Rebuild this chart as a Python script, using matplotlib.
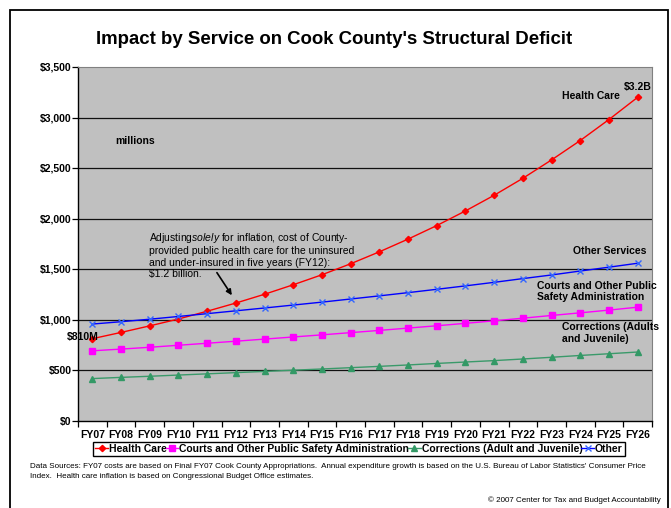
import matplotlib
matplotlib.use('Agg')
import matplotlib.pyplot as plt
from matplotlib.patches import Rectangle
from matplotlib.font_manager import FontProperties

plt.rcParams['font.family'] = ['Liberation Sans', 'DejaVu Sans']
plt.rcParams['mathtext.fontset'] = 'custom'
plt.rcParams['mathtext.rm'] = 'Liberation Sans'
plt.rcParams['mathtext.it'] = 'Liberation Sans:italic'

# Fiscal years and projected costs ($ millions)
years = ['FY07', 'FY08', 'FY09', 'FY10', 'FY11', 'FY12', 'FY13', 'FY14', 'FY15', 'FY16',
         'FY17', 'FY18', 'FY19', 'FY20', 'FY21', 'FY22', 'FY23', 'FY24', 'FY25', 'FY26']
health_care = [810, 872, 937, 1005, 1082, 1163, 1250, 1344, 1443, 1552,
               1670, 1796, 1930, 2075, 2230, 2398, 2580, 2772, 2980, 3200]
courts = [690, 707, 725, 745, 765, 785, 806, 827, 848, 870,
          892, 915, 938, 962, 987, 1013, 1040, 1066, 1093, 1122]
corrections = [415, 427, 438, 450, 462, 474, 486, 498, 510, 523,
               536, 550, 565, 579, 593, 609, 626, 644, 661, 678]
other = [955, 978, 1003, 1030, 1058, 1086, 1114, 1143, 1172, 1203,
         1234, 1266, 1299, 1333, 1368, 1405, 1441, 1480, 1518, 1557]
series_labels = ['Health Care', 'Courts and Other Public Safety Administration',
                 'Corrections (Adult and Juvenile)', 'Other']
y_ticks = [0, 500, 1000, 1500, 2000, 2500, 3000, 3500]
y_tick_labels = ['$0', '$500', '$1,000', '$1,500', '$2,000', '$2,500', '$3,000', '$3,500']

W, H = 671, 508
fig = plt.figure(figsize=(W / 100, H / 100), dpi=100)
fig.patch.set_facecolor('white')

# outer frame of the chart
fig.add_artist(Rectangle((10 / W, -0.05), (668 - 10) / W, 1.05 - 10 / H,
                         transform=fig.transFigure, fill=False,
                         edgecolor='black', lw=1.3))

ax = fig.add_axes([78 / W, 1 - 420.5 / H, (652 - 78) / W, (420.5 - 67) / H])
ax.set_facecolor('#C0C0C0')

x = list(range(len(years)))
for v in y_ticks[1:-1]:
    ax.axhline(v, color='#111111', lw=0.9, zorder=1)

ax.plot(x, health_care, color='#FF0000', lw=1.0, marker='D', ms=3.2,
        mfc='#FF0000', mec='#FF0000', zorder=3, label=series_labels[0])
ax.plot(x, courts, color='#FF00FF', lw=1.0, marker='s', ms=4.5,
        mfc='#FF00FF', mec='#FF00FF', zorder=3, label=series_labels[1])
ax.plot(x, corrections, color='#3A9A6A', lw=1.0, marker='^', ms=4.3,
        mfc='#339966', mec='#339966', zorder=3, label=series_labels[2])
ax.plot(x, other, color='#0000FF', lw=1.0, marker='x', ms=4.2, mew=1.0,
        mec='#3366FF', zorder=3, label=series_labels[3])

ax.set_xlim(-0.5, len(years) - 0.5)
ax.set_ylim(0, 3500)

ax.set_yticks(y_ticks)
ax.set_yticklabels(y_tick_labels, fontsize=7.5, fontweight='bold')
ax.tick_params(axis='y', direction='out', length=4, width=0.9, pad=0.5, colors='black')

ax.set_xticks([i - 0.5 for i in range(len(years) + 1)])
ax.set_xticklabels([])
ax.set_xticks(x, minor=True)
ax.set_xticklabels(years, minor=True, fontsize=7.5, fontweight='bold')
ax.tick_params(axis='x', which='major', direction='out', length=4, width=0.9)
ax.tick_params(axis='x', which='minor', length=0, pad=7)

ax.spines['left'].set_color('black')
ax.spines['bottom'].set_color('black')
ax.spines['left'].set_linewidth(1.0)
ax.spines['bottom'].set_linewidth(1.0)
ax.spines['top'].set_color('#808080')
ax.spines['right'].set_color('#808080')

bold = dict(fontsize=7.5, fontweight='bold', color='black')
ax.text(0.79, 2772, 'millions', ha='left', va='center', **bold)
ax.text(-0.88, 822, '$810M', ha='left', va='center', zorder=5, **bold)
ax.text(19.5, 3304, '$3.2B', ha='right', va='center', **bold)
ax.text(16.35, 3211, 'Health Care', ha='left', va='center', **bold)
ax.text(16.74, 1679, 'Other Services', ha='left', va='center', **bold)
ax.text(15.5, 1280, 'Courts and Other Public\nSafety Administration',
        ha='left', va='center', linespacing=1.15, **bold)
ax.text(16.35, 866, 'Corrections (Adults\nand Juvenile)',
        ha='left', va='center', linespacing=1.15, **bold)

ax.text(1.97, 1639,
        'Adjusting$\\mathit{solely}$ for inflation, cost of County-\n'
        'provided public health care for the uninsured\n'
        'and under-insured in five years (FY12):\n'
        '$1.2 billion.',
        ha='left', va='center', fontsize=7.5, linespacing=1.15, color='black')
ax.annotate('', xy=(4.86, 1240), xytext=(4.34, 1464),
            arrowprops=dict(arrowstyle='-|>', color='black', lw=1.2,
                            mutation_scale=8, shrinkA=0, shrinkB=0))

fig.text(334 / W, 1 - 40 / H, "Impact by Service on Cook County's Structural Deficit",
         ha='center', va='center', fontsize=13.4, fontweight='bold')

handles, labels = ax.get_legend_handles_labels()
leg = fig.legend(handles, labels, loc='center', bbox_to_anchor=(359 / W, 1 - 449 / H),
                 ncol=4, frameon=True, fancybox=False, edgecolor='black', framealpha=1,
                 prop=FontProperties(family=['Liberation Sans', 'DejaVu Sans'],
                                     weight='bold', size=7.5),
                 handlelength=1.2, handletextpad=0.1, columnspacing=-0.1,
                 borderpad=0.2, borderaxespad=0)
leg.get_frame().set_linewidth(1.0)

small = dict(fontsize=5.75, color='black',
             family=['Liberation Sans Narrow', 'Liberation Sans', 'DejaVu Sans'])
fig.text(30 / W, 1 - 467 / H,
         "Data Sources: FY07 costs are based on Final FY07 Cook County Appropriations.  "
         "Annual expenditure growth is based on the U.S. Bureau of Labor Statistics' Consumer Price",
         ha='left', va='center', **small)
fig.text(30 / W, 1 - 476.5 / H,
         "Index.  Health care inflation is based on Congressional Budget Office estimates.",
         ha='left', va='center', **small)
fig.text(661 / W, 1 - 500 / H, "\u00a9 2007 Center for Tax and Budget Accountability",
         ha='right', va='center', **small)

fig.savefig('out.png', dpi=100, facecolor='white')
